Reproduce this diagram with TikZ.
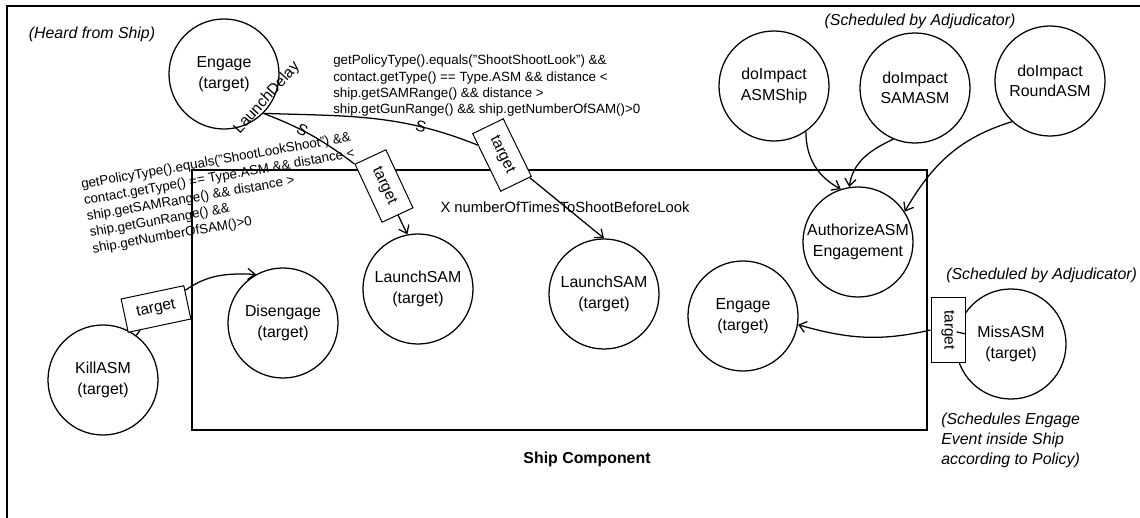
\documentclass[tikz,border=0pt]{standalone}
\usepackage{fontspec}
\setmainfont{Liberation Sans}
\usepackage{tikz}
\usetikzlibrary{automata, arrows.meta, calc}
\tikzset{
	>={Straight Barb[length=1.8mm,width=2.8mm]},
	every state/.style={line width=0.9pt, minimum size=2.75cm, inner sep=0pt, align=center, font=\fontsize{11.3}{14.5}\selectfont},
	tgtbox/.style={draw, fill=white, line width=0.7pt, minimum width=1.6cm, minimum height=0.85cm, inner sep=0pt, font=\fontsize{11}{13}\selectfont},
	note/.style={font=\fontsize{11.3}{14.2}\selectfont\itshape, align=left},
	cond/.style={font=\fontsize{9.5}{11.6}\selectfont, align=left, inner sep=0pt},
	sfire/.style={sloped, font=\fontsize{11}{12}\selectfont, inner sep=0pt},
	link/.style={line width=0.9pt},
}

\begin{document}
\begin{tikzpicture}[x=0.025cm, y=-0.025cm]
	\useasboundingbox (0,0) rectangle (1140,518);
	\draw[line width=1.2pt] (7,518) -- (7,6) -- (1140,6);
	\draw[line width=1.1pt] (192,170) rectangle (927,430);
	
	\node[state] (ENGAGE) at (224,74) {Engage\\(target)};
	\node[state] (LAUNCHSAM1) at (418,289) {LaunchSAM\\(target)};
	\node[state] (LAUNCHSAM2) at (604,294) {LaunchSAM\\(target)};
	\node[state] (DISENGAGE) at (283,323) {Disengage\\(target)};
	\node[state] (KILLASM) at (103,380) {KillASM\\(target)};
	\node[state] (ENGAGEIN) at (743,316) {Engage\\(target)};
	\node[state] (MISSASM) at (1011,344) {MissASM\\(target)};
	\node[state] (AUTHORIZE) at (858,242) {AuthorizeASM\\Engagement};
	\node[state] (ASMSHIP) at (774,86) {doImpact\\ASMShip};
	\node[state] (SAMASM) at (915,88) {doImpact\\SAMASM};
	\node[state] (ROUNDASM) at (1050,81) {doImpact\\RoundASM};
	
	\node[tgtbox, rotate=-65] (TGT1) at (384,186) {target};
	\node[tgtbox, rotate=-64] (TGT2) at (502,155) {target};
	\node[tgtbox, rotate=12] (TGTKILL) at (156,309) {target};
	\node[tgtbox, rotate=-90] (TGTMISS) at (948,330) {target};
	
	\node[note] (HEARD) at (92,34) {(Heard from Ship)};
	\node[note] (SCHEDTOP) at (920,21) {(Scheduled by Adjudicator)};
	\node[note, anchor=west, inner sep=0pt] (SCHEDMISS) at (946,275) {(Scheduled by Adjudicator)};
	\node[note, anchor=north west, inner sep=0pt] (POLICYNOTE) at (941,413) {(Schedules Engage\\Event inside Ship\\according to Policy)};
	\node[font=\fontsize{11.3}{14}\selectfont\bfseries] (SHIPCOMP) at (587,459) {Ship Component};
	\node[font=\fontsize{10.5}{13}\selectfont] (TIMES) at (565,207) {X numberOfTimesToShootBeforeLook};
	\node[cond, anchor=north west] (SSL) at (333,55) {getPolicyType().equals("ShootShootLook") \&\&\\contact.getType() == Type.ASM \&\& distance <\\ship.getSAMRange() \&\& distance >\\ship.getGunRange() \&\& ship.getNumberOfSAM()>0};
	\node[cond, anchor=north west, rotate=10] (SLS) at (80,179) {getPolicyType().equals("ShootLookShoot") \&\&\\contact.getType() == Type.ASM \&\& distance <\\ship.getSAMRange() \&\& distance >\\ship.getGunRange() \&\&\\ship.getNumberOfSAM()>0};
	\node[rotate=48, font=\fontsize{11}{13}\selectfont] (DELAY) at (267,98) {LaunchDelay};
	
	\draw[link] (ENGAGE.-45) to[bend left=8] node[sfire, pos=0.4]{S} (TGT1.south west);
	\draw[link, ->] (TGT1) -- (LAUNCHSAM1.101);
	\draw[link] (ENGAGE.-45) to[out=-2, in=158] node[sfire, pos=0.74]{S} ($(TGT2.south west)!0.2!(TGT2.south east)$);
	\draw[link, ->] (TGT2) -- (LAUNCHSAM2.north);
	\draw[link] (KILLASM) -- (TGTKILL);
	\draw[link, ->] ($(TGTKILL.east)!0.7!(TGTKILL.north east)$) to[out=35, in=178] (DISENGAGE.119);
	\draw[link] (MISSASM) -- (TGTMISS);
	\draw[link, ->] (TGTMISS.south) to[out=193, in=-16] (ENGAGEIN.-9);
	\draw[link, ->] (ASMSHIP.-55) to[out=-90, in=152] (AUTHORIZE.108);
	\draw[link, ->] (SAMASM.247) to[out=205, in=82] (AUTHORIZE.99);
	\draw[link, ->] (ROUNDASM.227) to[out=197, in=60] (AUTHORIZE.33);
	
\end{tikzpicture}
\end{document}
